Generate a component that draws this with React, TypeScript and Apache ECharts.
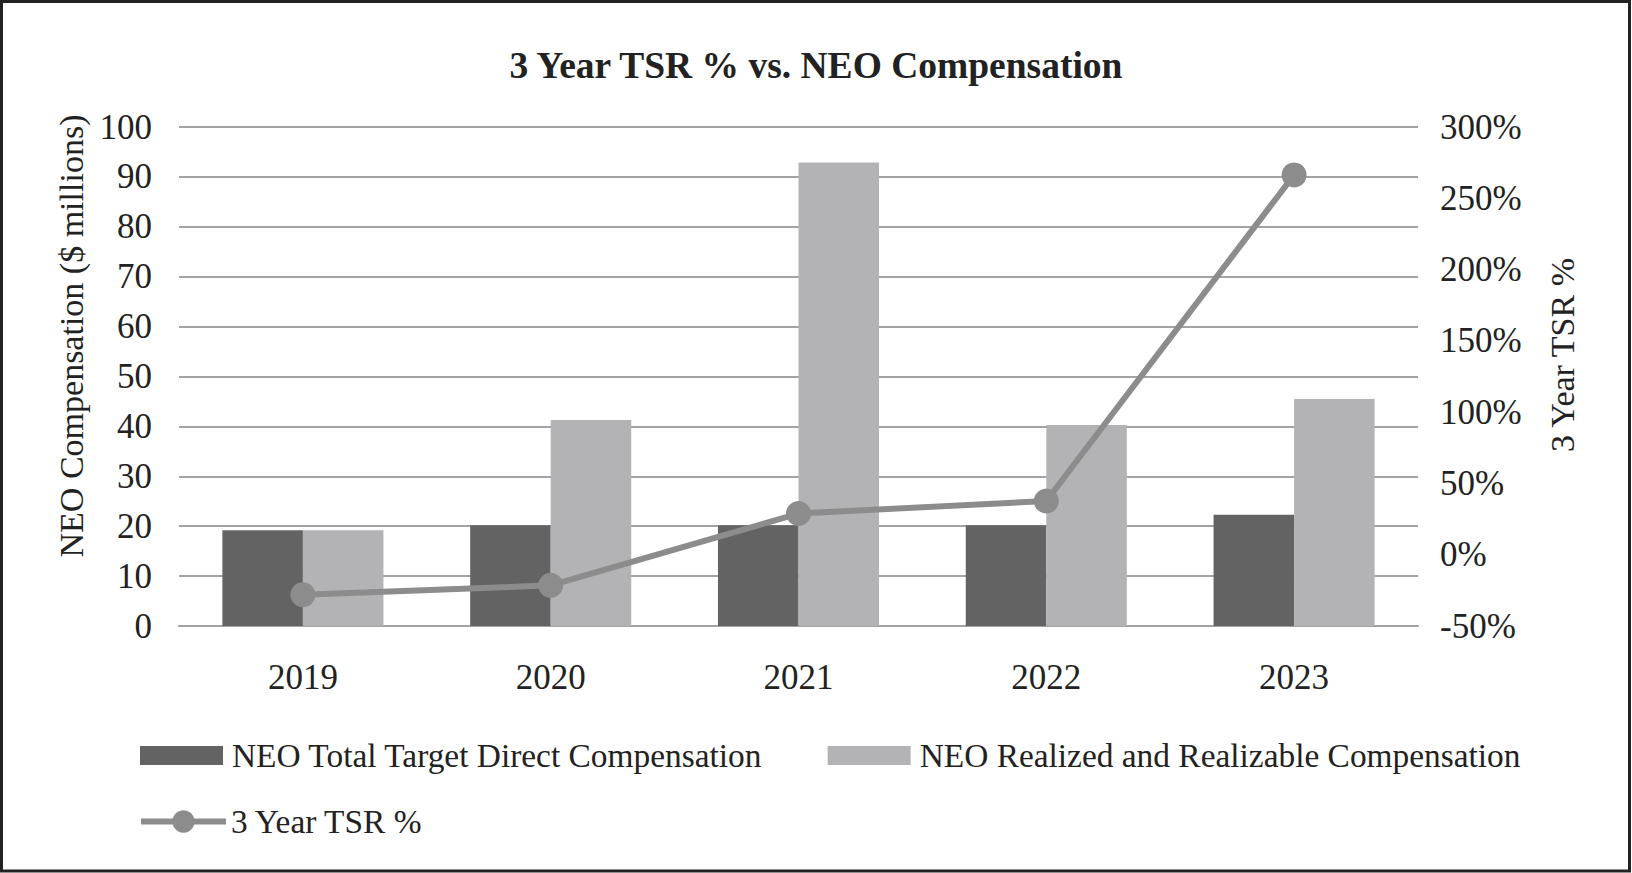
import React, { useEffect, useRef } from "react";
import * as echarts from "echarts";

const categories = ["2019", "2020", "2021", "2022", "2023"];
const targetDirect = [19.2, 20.2, 20.2, 20.2, 22.3];
const realized = [19.2, 41.3, 92.9, 40.3, 45.5];
const tsr = [-28, -21.5, 28.9, 37.7, 266.4];
const leftTicks = { min: 0, max: 100, interval: 10 };
const rightTicks = { min: -50, max: 300, interval: 50 };

const FONT = "Liberation Serif";
const INK = "#222222";

export default function App() {
  const ref = useRef<HTMLDivElement>(null);
  useEffect(() => {
    if (!ref.current) return;
    const chart = echarts.init(ref.current, undefined, { renderer: "svg" });
    chart.setOption({
      animation: false,
      backgroundColor: "#ffffff",
      textStyle: { fontFamily: FONT },
      graphic: [
        {
          type: "rect",
          shape: { x: 1.5, y: 1.5, width: 1628, height: 869.5 },
          style: { fill: "none", stroke: INK, lineWidth: 3 },
          silent: true,
        },
        {
          type: "text",
          x: 71,
          y: 336,
          rotation: Math.PI / 2,
          silent: true,
          style: {
            text: "NEO Compensation ($ millions)",
            fontFamily: FONT,
            fontSize: 34,
            fill: INK,
            textAlign: "center",
            textVerticalAlign: "middle",
          },
        },
        {
          type: "text",
          x: 1562,
          y: 355,
          rotation: Math.PI / 2,
          silent: true,
          style: {
            text: "3 Year TSR %",
            fontFamily: FONT,
            fontSize: 34,
            fill: INK,
            textAlign: "center",
            textVerticalAlign: "middle",
          },
        },
      ],
      title: {
        text: "3 Year TSR % vs. NEO Compensation",
        left: "center",
        top: 41,
        textStyle: { fontFamily: FONT, fontSize: 37.5, fontWeight: "bold", color: INK },
      },
      grid: { left: 179, right: 214, top: 127, bottom: 247, containLabel: false },
      legend: [
        {
          data: ["NEO Total Target Direct Compensation", "NEO Realized and Realizable Compensation"],
          left: 135,
          top: 734,
          itemWidth: 83,
          itemHeight: 19,
          itemGap: 65,
          icon: "rect",
          textStyle: { fontFamily: FONT, fontSize: 33.4, color: INK, padding: [0, 0, 0, 4] },
        },
        {
          data: ["3 Year TSR %"],
          left: 133,
          top: 800,
          itemWidth: 85,
          itemHeight: 28,
          lineStyle: { width: 6 },
          textStyle: { fontFamily: FONT, fontSize: 33.4, color: INK, padding: [0, 0, 0, 0] },
        },
      ],
      xAxis: {
        type: "category",
        data: categories,
        axisLine: { lineStyle: { color: "#a3a3a3", width: 2 } },
        axisTick: { show: false },
        axisLabel: { fontFamily: FONT, fontSize: 35, color: INK, margin: 34 },
      },
      yAxis: [
        {
          type: "value",
          min: leftTicks.min,
          max: leftTicks.max,
          interval: leftTicks.interval,
          axisLabel: { fontFamily: FONT, fontSize: 35, color: INK, margin: 27 },
          axisLine: { show: false },
          axisTick: { show: false },
          splitLine: { lineStyle: { color: "#a3a3a3", width: 2 } },
        },
        {
          type: "value",
          position: "right",
          min: rightTicks.min,
          max: rightTicks.max,
          interval: rightTicks.interval,
          axisLabel: { fontFamily: FONT, fontSize: 35, color: INK, margin: 22, formatter: "{value}%" },
          axisLine: { show: false },
          axisTick: { show: false },
          splitLine: { show: false },
        },
      ],
      series: [
        {
          name: "NEO Total Target Direct Compensation",
          type: "bar",
          data: targetDirect,
          barGap: "0%",
          barCategoryGap: "35%",
          itemStyle: { color: "#636363" },
        },
        {
          name: "NEO Realized and Realizable Compensation",
          type: "bar",
          data: realized,
          itemStyle: { color: "#b3b2b5" },
        },
        {
          name: "3 Year TSR %",
          type: "line",
          yAxisIndex: 1,
          data: tsr,
          symbol: "circle",
          symbolSize: 25,
          lineStyle: { color: "#8c8c8c", width: 6 },
          itemStyle: { color: "#8c8c8c" },
          z: 5,
        },
      ],
    });
    return () => chart.dispose();
  }, []);
  return (
    <div
      ref={ref}
      style={{ position: "fixed", left: 0, top: 0, width: 1632, height: 873 }}
    />
  );
}
